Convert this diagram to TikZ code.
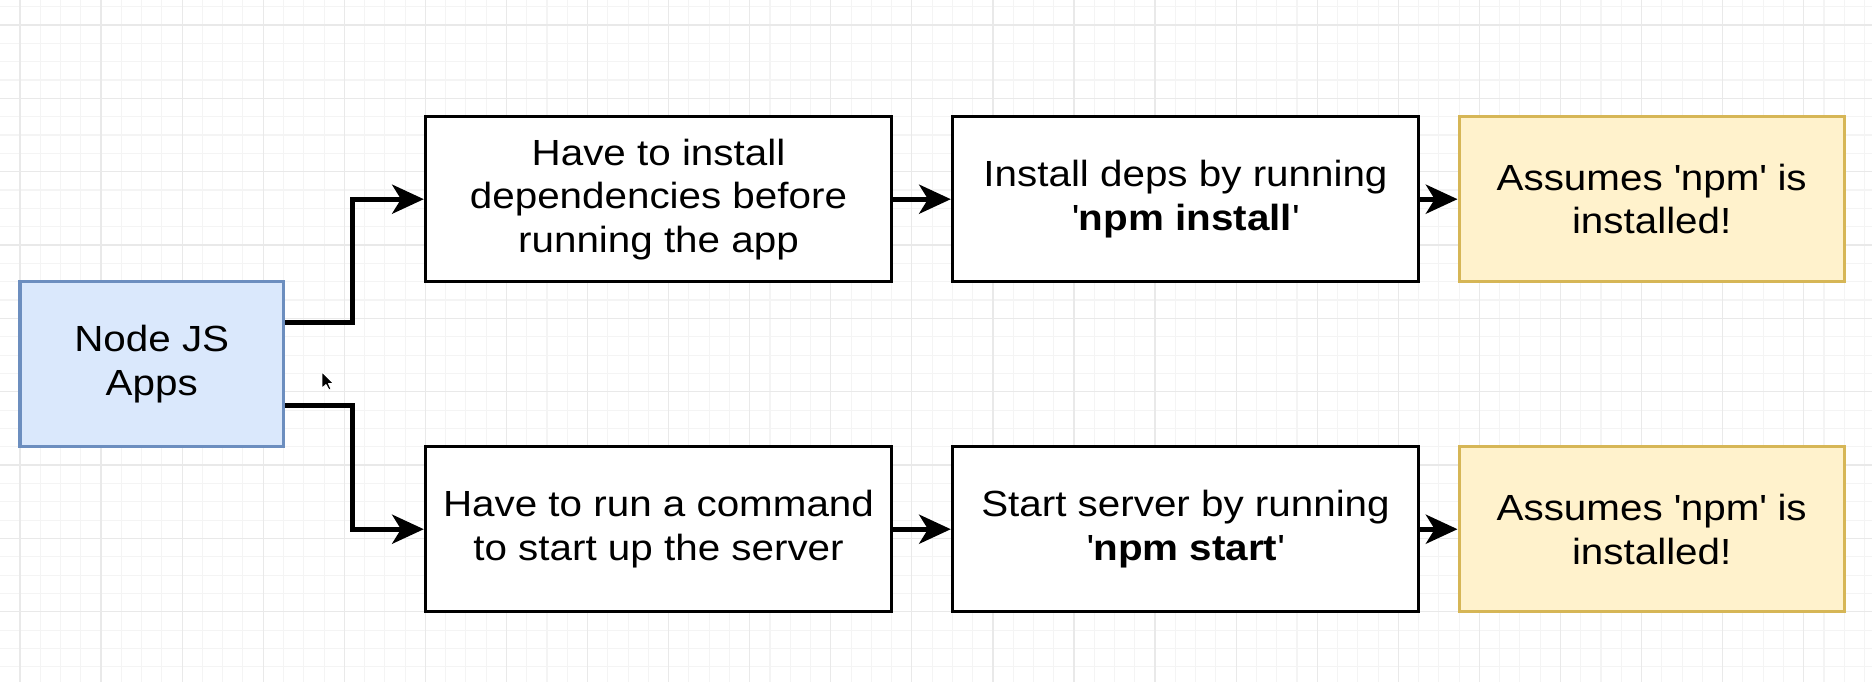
\documentclass[tikz,border=0pt]{standalone}
\usepackage{fontspec}
\setmainfont[FakeStretch=1.11]{Liberation Sans}
\usetikzlibrary{arrows.meta,calc}
\definecolor{gridminor}{HTML}{F4F4F4}
\definecolor{gridmajor}{HTML}{E9E9E9}
\definecolor{appfill}{HTML}{DAE8FC}
\definecolor{appdraw}{HTML}{6C8EBF}
\definecolor{notefill}{HTML}{FFF2CC}
\definecolor{notedraw}{HTML}{D6B656}
\newcommand{\straightq}{\textquotesingle}

\tikzset{
  box/.style={draw=black, line width=1.8pt, fill=white,
    minimum width=9.324cm, minimum height=3.30cm, align=center,
    inner sep=0pt, font=\fontsize{20.7}{24.8}\selectfont},
  appbox/.style={box, draw=appdraw, fill=appfill, minimum width=5.27cm},
  notebox/.style={box, draw=notedraw, fill=notefill, minimum width=7.703cm},
  conn/.style={line width=2.8pt, -{Stealth[length=18pt,width=16.5pt,inset=5pt]}},
  minorline/.style={draw=gridminor, line width=0.6pt},
  majorline/.style={draw=gridmajor, line width=0.7pt},
}

\begin{document}
\begin{tikzpicture}[x=0.4054cm, y=-0.3667cm]
  \useasboundingbox (-0.987,-1.364) rectangle (91.37,35.84);
  \fill[white] (-0.987,-1.364) rectangle (91.37,35.84);

  % background grid
  \foreach \i in {0,...,91} {\path[minorline] (\i,-1.364) -- (\i,35.84);}
  \foreach \j in {-1,...,35} {\path[minorline] (-0.987,\j) -- (91.37,\j);}
  \foreach \i in {0,4,...,88} {\path[majorline] (\i,-1.364) -- (\i,35.84);}
  \foreach \j in {0,4,...,32} {\path[majorline] (-0.987,\j) -- (91.37,\j);}

  % boxes
  \node[appbox] (nj) at (6.5,18.5) {Node JS\\Apps};

  \node[box] (b1) at (31.5,9.5) {Have to install\\dependencies before\\running the app};
  \node[box] (b2) at (57.5,9.5) {Install deps by running\\\straightq\textbf{npm install}\straightq};
  \node[notebox] (n1) at (80.5,9.5) {Assumes \straightq npm\straightq{} is\\installed!};

  \node[box] (c1) at (31.5,27.5) {Have to run a command\\to start up the server};
  \node[box] (c2) at (57.5,27.5) {Start server by running\\\straightq\textbf{npm start}\straightq};
  \node[notebox] (n2) at (80.5,27.5) {Assumes \straightq npm\straightq{} is\\installed!};

  % connectors
  \draw[conn] ([yshift=0.825cm]nj.east) -| ($(b1.west)+(-3.5,0)$) -- (b1.west);
  \draw[conn] ([yshift=-0.825cm]nj.east) -| ($(c1.west)+(-3.5,0)$) -- (c1.west);
  \draw[conn] (b1.east) -- (b2.west);
  \draw[conn] (b2.east) -- (n1.west);
  \draw[conn] (c1.east) -- (c2.west);
  \draw[conn] (c2.east) -- (n2.west);

  % mouse pointer
  \begin{scope}[shift={(14.9,18.93)}, x=0.02cm, y=-0.02cm]
    \filldraw[fill=black, draw=white, line width=0.5pt, line join=round]
      (0,0) -- (0,16) -- (4,12.5) -- (7,18) -- (9,17) -- (6.5,11.5) -- (11.5,11.5) -- cycle;
  \end{scope}
\end{tikzpicture}
\end{document}
